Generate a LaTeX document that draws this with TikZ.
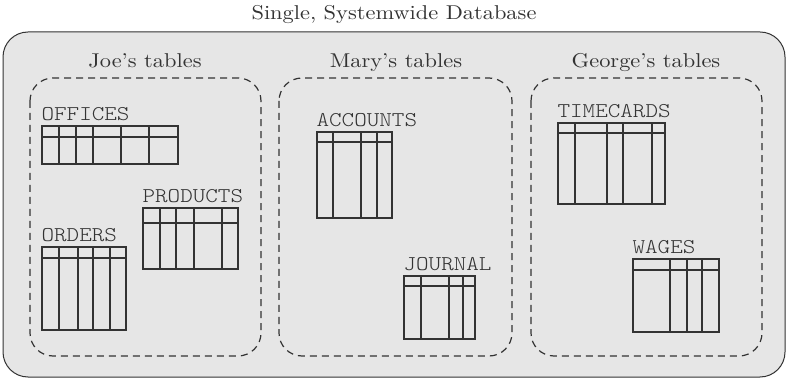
\documentclass[tikz,border=0pt]{standalone}
\usepackage{fontspec}
\newfontfamily\headfont{lmroman10-regular.otf}[FakeStretch=1.12, Ligatures=TeX]
\newfontfamily\tblfont{lmmonolt10-regular.otf}[FakeStretch=1.14]
\usetikzlibrary{positioning}
\definecolor{cline}{HTML}{333333}
\definecolor{cfill}{HTML}{E6E6E6}
\tikzset{
  every picture/.style={line width=1.1pt},
  dbbox/.style={draw=cline, fill=cfill, rounded corners=25pt, line width=1pt},
  owner/.style={draw=cline, dash pattern=on 7pt off 5pt, rounded corners=23pt, line width=1.2pt, inner sep=0pt},
  tbl/.style={draw=cline, line width=1.3pt},
  tname/.style={font=\tblfont\fontsize{21}{21}\selectfont, text=cline, inner sep=0pt, anchor=base west},
  heading/.style={font=\headfont\fontsize{20}{24}\selectfont, text=cline, inner sep=0pt, anchor=base},
}
% name, label, left, top, right, bottom, header line, column lines
\newcommand{\dbtable}[8]{%
  \node[tname] (#1) at (#3-1,#4-5) {#2};
  \draw[tbl] (#3,#4) rectangle (#5,#6);
  \draw[tbl] (#3,#7) -- (#5,#7);
  \foreach \cx in {#8} \draw[tbl] (\cx,#4) -- (\cx,#6);
}

\begin{document}
\begin{tikzpicture}[x=1pt, y=-1pt]
  \useasboundingbox (0,0) rectangle (787,379);
  \node[heading] (title) at (394,20) {Single, Systemwide Database};
  \draw[dbbox] (3,32) rectangle (785,377);

  % one box per owner
  \draw[owner] (30,78) rectangle (261,356);
  \draw[owner] (279,78) rectangle (512,356);
  \draw[owner] (531,78) rectangle (762,356);
  \node[heading] (joe) at (145,68) {Joe's tables};
  \node[heading] (mary) at (396,68) {Mary's tables};
  \node[heading] (george) at (646,68) {George's tables};

  \dbtable{offices}{OFFICES}{42}{126}{178}{164}{137}{59,76,93,121,149}
  \dbtable{products}{PRODUCTS}{143}{208}{238}{269}{223}{160,176,194,222}
  \dbtable{orders}{ORDERS}{42}{247}{126}{330}{258}{59,78,93,110}

  \dbtable{accounts}{ACCOUNTS}{317}{132}{392}{218}{142}{333,361,377}
  \dbtable{journal}{JOURNAL}{404}{276}{475}{339}{286}{421,449,463}

  \dbtable{timecards}{TIMECARDS}{558}{123}{665}{204}{133}{575,607,623,652}
  \dbtable{wages}{WAGES}{633}{259}{719}{332}{270}{670,687,702}
\end{tikzpicture}
\end{document}
